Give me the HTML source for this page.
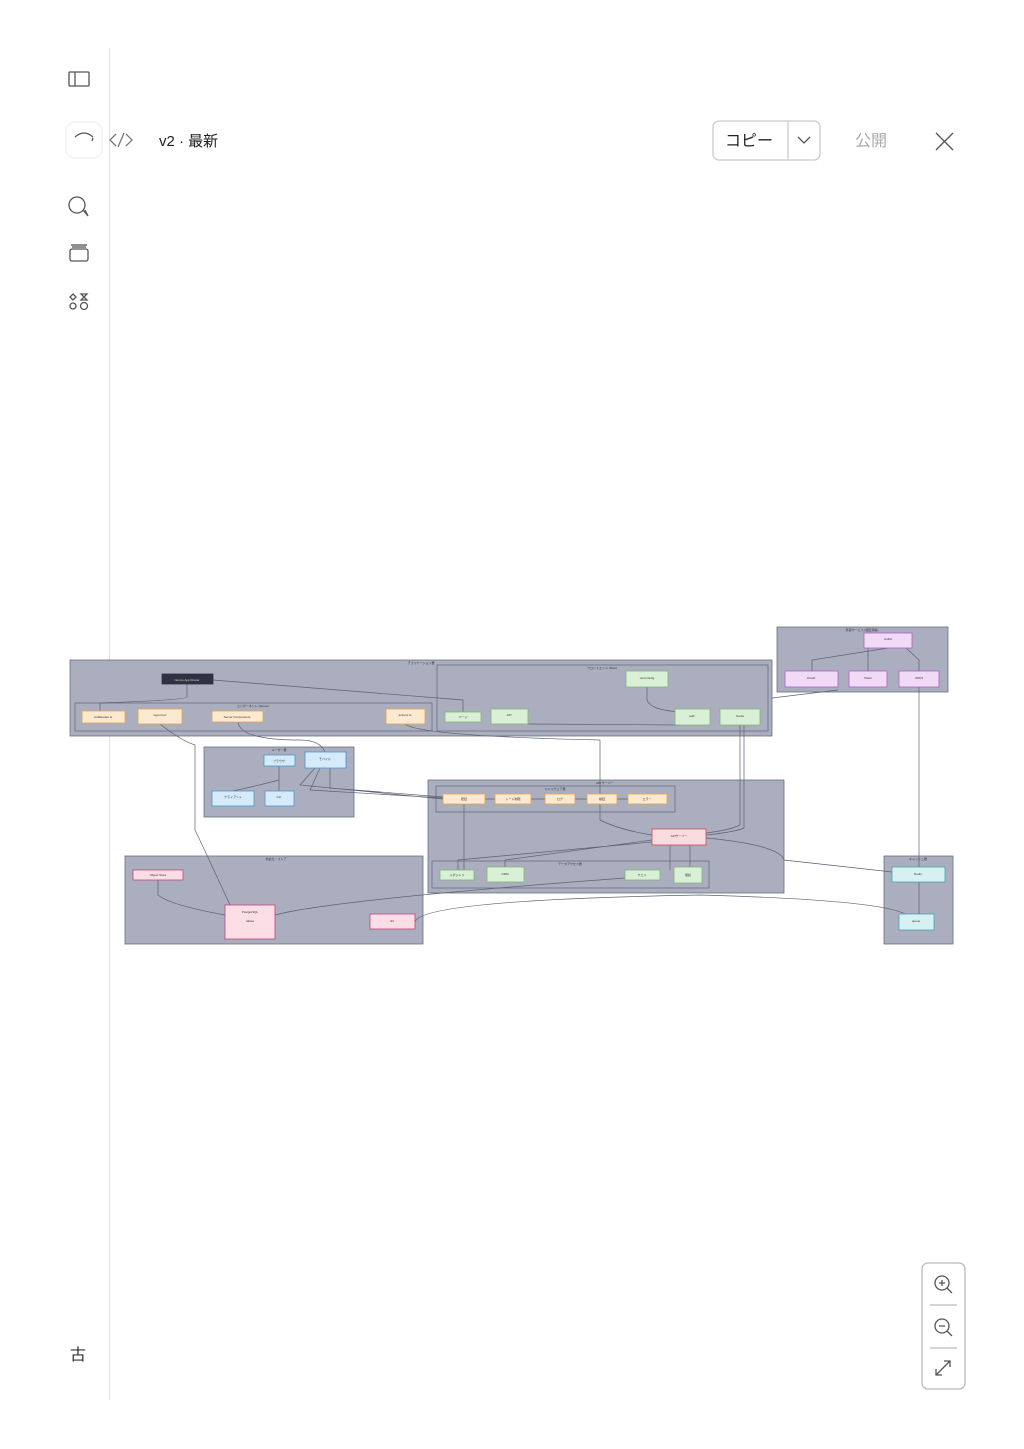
<!DOCTYPE html>
<html><head><meta charset="utf-8"><style>
html,body{margin:0;padding:0;width:1024px;height:1449px;background:#fff;overflow:hidden;font-family:"Liberation Sans","Noto Sans CJK JP",sans-serif;}
.abs{position:absolute}
</style></head><body>
<div class="abs" style="left:109px;top:48px;width:1px;height:1352px;background:#e2e2e2"></div>
<svg class="abs" style="left:0;top:0" width="1024" height="1449">
<g fill="none" stroke="#555" stroke-width="1.3">
<rect x="69" y="72" width="20" height="14" rx="1"/><line x1="75" y1="72" x2="75" y2="86"/>
<rect x="66" y="122" width="36" height="36" rx="9" stroke="#eee"/>
<path d="M75 137 Q84 129 93 137 M92 141 L93 138"/>
<path d="M116 134 L110 140 L116 146 M124 133 L118 147 M126 134 L132 140 L126 146" stroke="#777"/>
<circle cx="77" cy="205" r="8"/><path d="M83 210 L88 216 L85 210"/>
<rect x="70" y="249" width="18" height="12" rx="2"/><line x1="71" y1="245" x2="87" y2="245"/><line x1="72" y1="247" x2="86" y2="247"/>
<path d="M73 294 L76 297 L73 300 L70 297Z"/><circle cx="84" cy="306" r="3.5"/><circle cx="73" cy="306" r="3"/><path d="M81 294 H87 L81 300 H87 Z"/>
<path d="M936 133 L953 150 M953 133 L936 150"/>
<rect x="713" y="121" width="107" height="39" rx="6" stroke="#ccc"/><line x1="788" y1="121" x2="788" y2="160" stroke="#ccc"/>
<path d="M798 137 L804 143 L810 137"/>
<rect x="922" y="1263" width="43" height="126" rx="6" stroke="#bbb"/>
<line x1="930" y1="1305" x2="957" y2="1305" stroke="#bbb"/><line x1="930" y1="1348" x2="957" y2="1348" stroke="#bbb"/>
<circle cx="942" cy="1283" r="7"/><path d="M947 1288 L952 1293 M939 1283 H945 M942 1280 V1286"/>
<circle cx="942" cy="1326" r="7"/><path d="M947 1331 L952 1336 M939 1326 H945"/>
<path d="M936 1375 L950 1361 M944 1361 H950 V1367 M936 1369 V1375 H942"/>
</g>
<text x="159" y="146" font-size="15" fill="#222">v2 · 最新</text>
<text x="725" y="146" font-size="16" fill="#222">コピー</text>
<text x="855" y="146" font-size="16" fill="#aaa">公開</text>
<text x="70" y="1360" font-size="16" fill="#333">古</text>

<g stroke="#6b7080" stroke-width="0.8">
<rect x="70" y="660" width="702" height="76" fill="#aaaebf"/>
<rect x="75" y="703" width="357" height="28" fill="none"/>
<rect x="437" y="665" width="331" height="66" fill="none"/>
<rect x="777" y="627" width="171" height="65" fill="#aaaebf"/>
<rect x="204" y="747" width="150" height="70" fill="#aaaebf"/>
<rect x="428" y="780" width="356" height="113" fill="#aaaebf"/>
<rect x="436" y="786" width="239" height="26" fill="none"/>
<rect x="432" y="861" width="277" height="27" fill="none"/>
<rect x="125" y="856" width="298" height="88" fill="#aaaebf"/>
<rect x="884" y="856" width="69" height="88" fill="#aaaebf"/>
</g>
<g fill="none" stroke="#5d6272" stroke-width="0.7">
<path d="M187 684 V697 Q187 700 100 703 V711"/>
<path d="M213 680 L463 700 V712"/>
<path d="M160 724 Q180 740 195 745 V830 Q200 840 230 905"/>
<path d="M238 722 Q240 740 300 740 Q320 740 325 752"/>
<path d="M405 724 Q420 736 600 740 V820 Q620 830 652 835"/>
<path d="M647 687 V700 Q650 710 680 712"/>
<path d="M740 725 V825 Q730 830 706 833"/>
<path d="M744 725 V828 Q735 832 706 835"/>
<path d="M888 648 L812 660 V671 M868 648 L868 671 M906 648 L919 660 V671"/>
<path d="M919 687 V867 M919 882 V914"/>
<path d="M838 690 L772 698"/>
<path d="M279 766 V780 Q260 785 233 791 M279 766 V791"/>
<path d="M315 768 L300 785 L443 799 M320 768 L310 790 L443 798 M330 768 L330 788 L443 797"/>
<path d="M485 799 H495 M531 799 H545 M575 799 H587 M617 799 H628"/>
<path d="M464 804 V870 M652 842 L458 860 V870 M652 840 L505 860 V867 M670 845 V870 M690 845 V867"/>
<path d="M706 838 Q780 845 784 860 L892 872"/>
<path d="M158 880 V895 Q170 905 225 915"/>
<path d="M275 915 Q330 900 625 878"/>
<path d="M415 922 Q420 900 700 895 Q880 900 905 914"/>
<path d="M528 724 L680 725"/>
</g>
<g stroke-width="0.8">
<rect x="162" y="674" width="51" height="10" fill="#2d3140" stroke="#2d3140"/>
<g fill="#fde9cf" stroke="#e0a450">
<rect x="82" y="711" width="43" height="12"/><rect x="138" y="709" width="44" height="15"/><rect x="212" y="711" width="51" height="11"/><rect x="386" y="709" width="39" height="15"/>
<rect x="443" y="794" width="42" height="10"/><rect x="495" y="794" width="36" height="10"/><rect x="545" y="794" width="30" height="10"/><rect x="587" y="794" width="30" height="10"/><rect x="628" y="794" width="39" height="10"/>
</g>
<g fill="#d9efd6" stroke="#7db878">
<rect x="445" y="712" width="36" height="10"/><rect x="491" y="709" width="37" height="15"/><rect x="626" y="671" width="42" height="16"/><rect x="675" y="709" width="35" height="16"/><rect x="720" y="709" width="40" height="16"/>
<rect x="440" y="870" width="34" height="10"/><rect x="487" y="867" width="37" height="15"/><rect x="625" y="870" width="35" height="10"/><rect x="674" y="867" width="28" height="16"/>
</g>
<g fill="#f1daf5" stroke="#b060c0">
<rect x="864" y="633" width="48" height="15"/><rect x="785" y="671" width="53" height="16"/><rect x="849" y="671" width="38" height="16"/><rect x="899" y="671" width="40" height="16"/>
</g>
<g fill="#d6ebfa" stroke="#4a96d0">
<rect x="264" y="755" width="31" height="11"/><rect x="305" y="752" width="41" height="16"/><rect x="212" y="791" width="42" height="15"/><rect x="265" y="791" width="29" height="15"/>
</g>
<rect x="652" y="829" width="54" height="16" fill="#fbdbe0" stroke="#d04a5a"/>
<g fill="#fbdde5" stroke="#c04878">
<rect x="133" y="870" width="50" height="10"/><rect x="225" y="905" width="50" height="34"/><rect x="370" y="914" width="45" height="15"/>
</g>
<g fill="#d7f0f2" stroke="#40a8b0">
<rect x="892" y="867" width="53" height="15"/><rect x="899" y="914" width="35" height="16"/>
</g>
</g>
<g font-size="3" fill="#333" text-anchor="middle">
<text x="421" y="664">アプリケーション層</text><text x="602" y="669">フロントエンド (Next)</text><text x="253" y="707">コンポーネント (Server)</text>
<text x="862" y="631">外部サービス (認証基盤)</text><text x="279" y="751">ユーザー層</text><text x="605" y="784">API サーバー</text>
<text x="555" y="790">ミドルウェア層</text><text x="570" y="865">データアクセス層</text><text x="276" y="860">永続化・ストア</text><text x="918" y="860">キャッシュ層</text>
<text x="187" y="681" fill="#ddd">Next.js App Router</text>
<text x="103" y="718">middleware.ts</text><text x="160" y="716">layout.tsx</text><text x="237" y="718">Server Components</text><text x="405" y="716">actions.ts</text>
<text x="463" y="718">ページ</text><text x="509" y="716">API</text><text x="647" y="679">next.config</text><text x="692" y="717">auth</text><text x="740" y="717">hooks</text>
<text x="888" y="640">Auth0</text><text x="811" y="679">OAuth</text><text x="868" y="679">Token</text><text x="919" y="679">JWKS</text>
<text x="279" y="762">ブラウザ</text><text x="325" y="760">モバイル</text><text x="233" y="798">クライアント</text><text x="279" y="798">CLI</text>
<text x="464" y="800">認証</text><text x="513" y="800">レート制限</text><text x="560" y="800">ログ</text><text x="602" y="800">検証</text><text x="647" y="800">エラー</text>
<text x="679" y="837">APIサーバー</text><text x="457" y="876">リポジトリ</text><text x="505" y="875">ORM</text><text x="642" y="876">クエリ</text><text x="688" y="876">接続</text>
<text x="158" y="876">Object Store</text><text x="250" y="913">PostgreSQL</text><text x="250" y="922">tables</text><text x="392" y="922">S3</text>
<text x="918" y="875">Redis</text><text x="916" y="922">queue</text>
</g>
</svg>
</body></html>
